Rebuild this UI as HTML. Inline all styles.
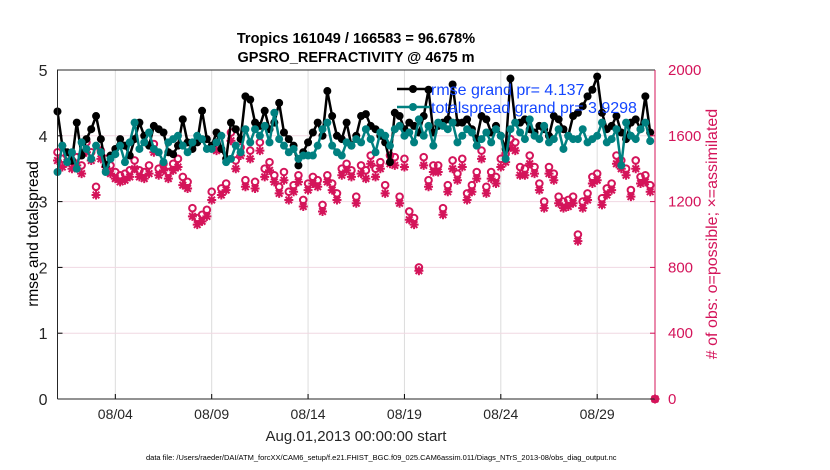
<!DOCTYPE html>
<html><head><meta charset="utf-8"><style>
body{margin:0;background:#fff;}
svg{display:block;font-family:"Liberation Sans",sans-serif;}
</style></head><body>
<svg id="chart" width="830" height="470" viewBox="0 0 830 470" xmlns="http://www.w3.org/2000/svg">
<text x="356" y="43" text-anchor="middle" font-size="14.5" font-weight="bold">Tropics 161049 / 166583 = 96.678%</text>
<text x="356" y="62" text-anchor="middle" font-size="14.5" font-weight="bold">GPSRO_REFRACTIVITY @ 4675 m</text>
<g id="grid"></g>
<g id="marks"></g>
<g id="axes"></g>
<text transform="translate(38,234) rotate(-90)" text-anchor="middle" font-size="15.5">rmse and totalspread</text>
<text transform="translate(717,234) rotate(-90)" text-anchor="middle" font-size="16" fill="#d4145a">#&#160;of obs: o=possible; ×=assimilated</text>
<text x="356" y="441" text-anchor="middle" font-size="15" fill="#262626">Aug.01,2013 00:00:00 start</text>
<text x="146" y="460" font-size="7.5" fill="#000">data file: /Users/raeder/DAI/ATM_forcXX/CAM6_setup/f.e21.FHIST_BGC.f09_025.CAM6assim.011/Diags_NTrS_2013-08/obs_diag_output.nc</text>
<g>
<line x1="397" y1="89" x2="430" y2="89" stroke="#000" stroke-width="2.5"/><circle cx="413" cy="89" r="4" fill="#000"/>
<text x="431" y="95" font-size="16" fill="#1446ff">rmse grand pr= 4.137</text>
<line x1="397" y1="107" x2="430" y2="107" stroke="#008080" stroke-width="2.5"/><circle cx="413" cy="107" r="4" fill="#008080"/>
<text x="431" y="113" font-size="16" fill="#1446ff">totalspread grand pr= 3.9298</text>
</g>
</svg>
<script>
const rmse=[4.37,3.85,3.75,3.62, 4.2,3.7,3.95,4.1, 4.3,3.95,3.55,3.7, 3.8,3.95,3.85,3.7, 3.95,4.2,4.0,3.85, 4.15,4.1,4.05,3.75, 3.72,3.85,4.25,3.9, 3.8,3.9,4.38,3.95, 3.85,4.05,3.8,3.65, 4.2,4.1,3.95,4.6, 4.55,4.2,4.15,4.38, 4.1,4.2,4.5,4.05, 3.95,3.85,3.55,3.75, 3.9,4.05,4.2,4.0, 4.68,4.3,4.0,3.95, 4.2,3.85,4.0,4.3, 4.33,4.15,4.1,4.0, 3.9,3.6,4.35,4.3, 4.1,4.2,4.15,4.05, 4.3,4.7,4.05,4.15, 4.2,4.25,4.78,4.2, 4.2,4.25,4.1,3.95, 4.3,4.25,4.05,4.15, 4.0,3.8,4.87,4.2, 4.2,4.25,4.1,4.05, 4.15,4.1,4.0,4.3, 4.25,4.1,4.0,4.3, 4.35,4.45,4.6,4.7, 4.9,4.35,4.1,4.15, 4.3,4.05,3.95,4.2, 4.25,4.1,4.6,4.05];
const spread=[3.45,3.85,3.6,3.75, 3.5,3.9,3.8,3.65, 3.85,3.75,3.45,3.65, 3.72,3.85,3.6,3.9, 4.2,3.8,3.9,4.05, 3.8,3.75,3.6,3.9, 3.95,4.0,3.85,3.75, 3.9,4.0,3.95,3.8, 3.8,3.9,4.0,3.6, 3.65,3.85,3.75,4.1, 3.9,4.1,4.0,4.15, 3.9,4.35,3.95,3.85, 3.75,3.8,3.65,3.7, 3.7,3.7,3.85,4.1, 4.2,3.85,3.75,3.7, 3.9,3.85,3.95,3.9, 4.1,3.95,3.75,4.05, 4.0,3.85,4.1,4.15, 4.0,4.05,3.9,4.25, 4.0,4.15,3.85,4.2, 4.15,4.1,4.2,3.9, 4.0,4.1,4.05,3.85, 3.95,4.05,3.9,4.1, 4.0,3.65,4.1,4.2, 4.05,3.95,4.25,4.0, 3.95,4.15,3.9,3.95, 4.1,3.8,4.0,3.95, 3.95,4.1,3.9,3.95, 4.0,4.2,3.9,3.95, 4.1,3.55,4.2,4.0, 3.95,4.1,4.2,3.92];
const possible=[1500,1460,1480,1450, 1470,1420,1560,1500, 1290,1510,1460,1420, 1380,1360,1370,1390, 1450,1390,1380,1420, 1550,1400,1430,1380, 1430,1460,1350,1320, 1160,1100,1120,1150, 1260,1560,1280,1310, 1620,1450,1530,1330, 1510,1320,1560,1400, 1440,1360,1290,1380, 1260,1300,1360,1210, 1310,1350,1330,1180, 1360,1310,1250,1400, 1430,1390,1230,1420, 1390,1480,1400,1440, 1300,1480,1470,1230, 1460,1140,1100,800, 1470,1330,1420,1420, 1160,1300,1450,1370, 1460,1250,1300,1380, 1510,1290,1380,1350, 1460,1490,1580,1560, 1410,1400,1480,1410, 1310,1200,1410,1370, 1230,1200,1210,1230, 1000,1200,1250,1350, 1370,1220,1280,1310, 1480,1450,1400,1270, 1450,1350,1360,1300, 0];
const assimilated=[1450,1410,1440,1400, 1420,1370,1500,1450, 1240,1460,1410,1370, 1340,1320,1330,1350, 1400,1350,1340,1370, 1500,1360,1390,1340, 1390,1410,1300,1280, 1110,1060,1080,1110, 1210,1510,1240,1270, 1570,1400,1480,1290, 1460,1280,1510,1350, 1390,1320,1250,1330, 1210,1260,1320,1170, 1270,1310,1290,1140, 1320,1270,1210,1360, 1390,1350,1190,1370, 1340,1430,1350,1400, 1250,1430,1420,1190, 1410,1090,1060,780, 1420,1290,1380,1380, 1120,1260,1400,1330, 1410,1210,1260,1340, 1460,1250,1340,1310, 1410,1440,1530,1510, 1360,1360,1430,1370, 1270,1160,1370,1330, 1190,1160,1170,1190, 960,1160,1210,1310, 1330,1180,1240,1270, 1430,1400,1360,1230, 1400,1310,1320,1260, 0];
const xTickDays=[3,8,13,18,23,28];
const xTickLabels=["08/04","08/09","08/14","08/19","08/24","08/29"];
const leftTicks=[0,1,2,3,4,5];
const rightTicks=[0,400,800,1200,1600,2000];
const stepDays=0.25;

const L=57.5,R=655,T=70,B=399;
const xS=d=>L+(d/31)*(R-L);
const yL=v=>B-(v/5)*(B-T);
const yR=v=>B-(v/2000)*(B-T);
const NS="http://www.w3.org/2000/svg";
function mk(tag,attrs,parent){const e=document.createElementNS(NS,tag);for(const k in attrs)e.setAttribute(k,attrs[k]);parent.appendChild(e);return e;}
const grid=document.getElementById('grid'),marks=document.getElementById('marks'),axes=document.getElementById('axes');
const PINK="#d4145a";
xTickDays.forEach((d,i)=>{
  const g=mk('line',{x1:xS(d),x2:xS(d),y1:T,y2:B,stroke:'#dcdcdc','stroke-width':1},grid);
  
  
  const t=mk('line',{x1:xS(d),x2:xS(d),y1:B,y2:B-5,stroke:'#000'},axes);
  
  
  const lb=mk('text',{x:xS(d),y:B+20,'text-anchor':'middle','font-size':14,fill:'#262626'},axes);
  lb.textContent=xTickLabels[i];
  
  
});
rightTicks.forEach(v=>{
  const g=mk('line',{x1:L,x2:R,y1:yR(v),y2:yR(v),stroke:'#f0d8e2','stroke-width':1},grid);
  
  
  const t=mk('line',{x1:R-5,x2:R,y1:yR(v),y2:yR(v),stroke:PINK},axes);
  
  
  const lb=mk('text',{x:R+13,y:yR(v)+5,'font-size':15,fill:PINK},axes);
  lb.textContent=v;
  
  
});
leftTicks.forEach(v=>{
  const t=mk('line',{x1:L,x2:L+5,y1:yL(v),y2:yL(v),stroke:'#000'},axes);
  
  
  const lb=mk('text',{x:L-10,y:yL(v)+6,'text-anchor':'end','font-size':16,fill:'#262626'},axes);
  lb.textContent=v;
  
  
});
const ax1=mk('path',{d:`M${L},${B}V${T}H${R}`,fill:'none',stroke:'#262626','stroke-width':1},axes);


const ax2=mk('line',{x1:L,x2:R,y1:B,y2:B,stroke:'#262626'},axes);


const ax3=mk('line',{x1:R,x2:R,y1:T,y2:B,stroke:PINK},axes);



possible.forEach((v,i)=>{
  const x=xS(i*stepDays),y=yR(v);
  const c=mk('circle',{cx:x,cy:y,r:3.3,fill:'none',stroke:PINK,'stroke-width':2},marks);
  
  
});
assimilated.forEach((v,i)=>{
  const x=xS(i*stepDays),y=yR(v),s=4.5,d=3.3;
  const p=mk('path',{d:`M${x-s},${y}H${x+s}M${x},${y-s}V${y+s}M${x-d},${y-d}L${x+d},${y+d}M${x-d},${y+d}L${x+d},${y-d}`,stroke:PINK,'stroke-width':2},marks);
  
  
});
function series(arr,color,name){
  const d=arr.map((v,i)=>(i?'L':'M')+xS(i*stepDays)+','+yL(v)).join('');
  const p=mk('path',{d:d,fill:'none',stroke:color,'stroke-width':2.5,'stroke-linejoin':'round'},marks);
  
  
  arr.forEach((v,i)=>{
    const c=mk('circle',{cx:xS(i*stepDays),cy:yL(v),r:4,fill:color},marks);
    
    
  });
}
series(rmse,'#000','rmse');
series(spread,'#008080','totalspread');
</script>
</body></html>
